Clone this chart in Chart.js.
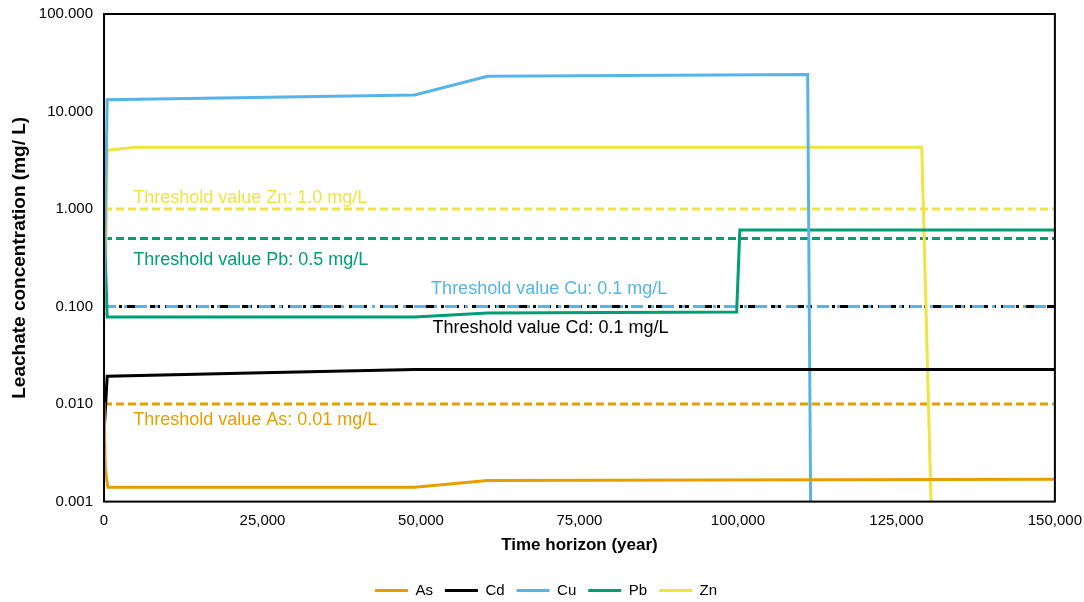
<!DOCTYPE html>
<html>
<head>
<meta charset="utf-8">
<script src="https://cdn.jsdelivr.net/npm/chart.js@4/dist/chart.umd.min.js"></script>
<style>
  body { margin: 0; background: #fff; }
  #wrap { width: 1084px; height: 602px; }
</style>
</head>
<body>
<div id="wrap"><canvas id="myChart"></canvas></div>
<script>
// values (year, mg/L)
const asYears = [0, 200, 600, 49000, 60500, 150000];
const asValues = [0.0105, 0.0022, 0.0014, 0.0014, 0.00165, 0.0017];

const cdYears = [0, 500, 25000, 49000, 150000];
const cdValues = [0.005, 0.0193, 0.021, 0.0226, 0.0226];

const cuYears = [0, 500, 49000, 60500, 111000, 111500];
const cuValues = [0.1, 13.2, 14.8, 23.0, 24.0, 0.0005];

const pbYears = [0, 500, 49000, 60500, 99800, 100300, 150000];
const pbValues = [0.8, 0.078, 0.078, 0.086, 0.088, 0.61, 0.61];

const znYears = [0, 300, 500, 5000, 129000, 130500];
const znValues = [0.22, 0.4, 4.0, 4.3, 4.3, 0.0008];

const thresholdYears = [0, 150000];
const thresholdAs = 0.01;
const thresholdCd = 0.1;
const thresholdCu = 0.1;
const thresholdPb = 0.5;
const thresholdZn = 1.0;

const yTicks = [0.001, 0.01, 0.1, 1, 10, 100];

const colors = {
    As: '#E69F00',
    Cd: '#000000',
    Cu: '#56B4E9',
    Pb: '#009E73',
    Zn: '#F0E442'
};

const fontFamily = "'Liberation Sans', Arial, sans-serif";

function toPoints(xs, ys) {
    return xs.map((x, i) => ({ x: x, y: ys[i] }));
}

function series(label, xs, ys) {
    return {
        label: label,
        data: toPoints(xs, ys),
        borderColor: colors[label],
        backgroundColor: colors[label],
        borderWidth: 3,
        pointRadius: 0,
        pointStyle: 'line',
        fill: false,
        order: 1
    };
}

function threshold(label, value, color, dash) {
    return {
        label: label,
        data: toPoints(thresholdYears, [value, value]),
        borderColor: color,
        borderWidth: 3,
        borderDash: dash,
        pointRadius: 0,
        fill: false,
        order: 5
    };
}

// threshold captions: anchored on the threshold line, dy = baseline offset in px
const captions = [
    { text: 'Threshold value Zn: 1.0 mg/L', color: colors.Zn, year: 4600, value: thresholdZn, dy: -6 },
    { text: 'Threshold value Pb: 0.5 mg/L', color: colors.Pb, year: 4600, value: thresholdPb, dy: 27 },
    { text: 'Threshold value Cu: 0.1 mg/L', color: colors.Cu, year: 51600, value: thresholdCu, dy: -13 },
    { text: 'Threshold value Cd: 0.1 mg/L', color: colors.Cd, year: 51800, value: thresholdCd, dy: 26 },
    { text: 'Threshold value As: 0.01 mg/L', color: colors.As, year: 4600, value: thresholdAs, dy: 21 }
];

const captionPlugin = {
    id: 'captions',
    afterDatasetsDraw(chart) {
        const ctx = chart.ctx;
        const xs = chart.scales.x;
        const ys = chart.scales.y;
        ctx.save();
        ctx.font = '18px ' + fontFamily;
        ctx.textBaseline = 'alphabetic';
        ctx.textAlign = 'left';
        captions.forEach(c => {
            ctx.fillStyle = c.color;
            ctx.fillText(c.text, xs.getPixelForValue(c.year), ys.getPixelForValue(c.value) + c.dy);
        });
        ctx.restore();
    },
    afterDraw(chart) {
        const a = chart.chartArea;
        const ctx = chart.ctx;
        ctx.save();
        ctx.strokeStyle = '#000';
        ctx.lineWidth = 2;
        ctx.strokeRect(a.left, a.top, a.right - a.left, a.bottom - a.top);
        ctx.restore();
    }
};

new Chart('myChart', {
    type: 'line',
    data: {
        datasets: [
            series('As', asYears, asValues),
            series('Cd', cdYears, cdValues),
            series('Cu', cuYears, cuValues),
            series('Pb', pbYears, pbValues),
            series('Zn', znYears, znValues),
            threshold('Threshold Zn', thresholdZn, colors.Zn, [8, 4]),
            threshold('Threshold Pb', thresholdPb, colors.Pb, [8, 4]),
            threshold('Threshold Cu', thresholdCu, colors.Cu, [12, 8, 3, 8]),
            threshold('Threshold Cd', thresholdCd, colors.Cd, [10, 5, 3, 5]),
            threshold('Threshold As', thresholdAs, colors.As, [8, 4])
        ]
    },
    options: {
        responsive: true,
        maintainAspectRatio: false,
        animation: false,
        layout: { padding: { top: 14, left: 8, right: 0, bottom: -6 } },
        plugins: {
            legend: {
                position: 'bottom',
                labels: {
                    usePointStyle: true,
                    pointStyleWidth: 33,
                    color: '#000',
                    font: { family: fontFamily, size: 15 },
                    padding: 12,
                    filter: item => !item.text.startsWith('Threshold')
                }
            },
            tooltip: { enabled: false }
        },
        scales: {
            x: {
                type: 'linear',
                min: 0,
                max: 150000,
                grid: { display: false },
                border: { display: false },
                ticks: {
                    stepSize: 25000,
                    color: '#000',
                    padding: 2,
                    font: { family: fontFamily, size: 15 },
                    callback: v => v.toLocaleString('en-US')
                },
                title: {
                    display: true,
                    text: 'Time horizon (year)',
                    color: '#000',
                    font: { family: fontFamily, size: 17, weight: 'bold' },
                    padding: { top: 4, bottom: 15 }
                }
            },
            y: {
                type: 'logarithmic',
                min: 0.001,
                max: 100,
                grid: { display: false },
                border: { display: false },
                afterBuildTicks: axis => {
                    axis.ticks = yTicks.map(v => ({ value: v }));
                },
                ticks: {
                    color: '#000',
                    padding: 3,
                    font: { family: fontFamily, size: 15 },
                    callback: v => Number(v).toFixed(3)
                },
                title: {
                    display: true,
                    text: 'Leachate concentration (mg/ L)',
                    color: '#000',
                    font: { family: fontFamily, size: 19, weight: 'bold' },
                    padding: { top: 0, bottom: 5 }
                }
            }
        }
    },
    plugins: [captionPlugin]
});
</script>
</body>
</html>
